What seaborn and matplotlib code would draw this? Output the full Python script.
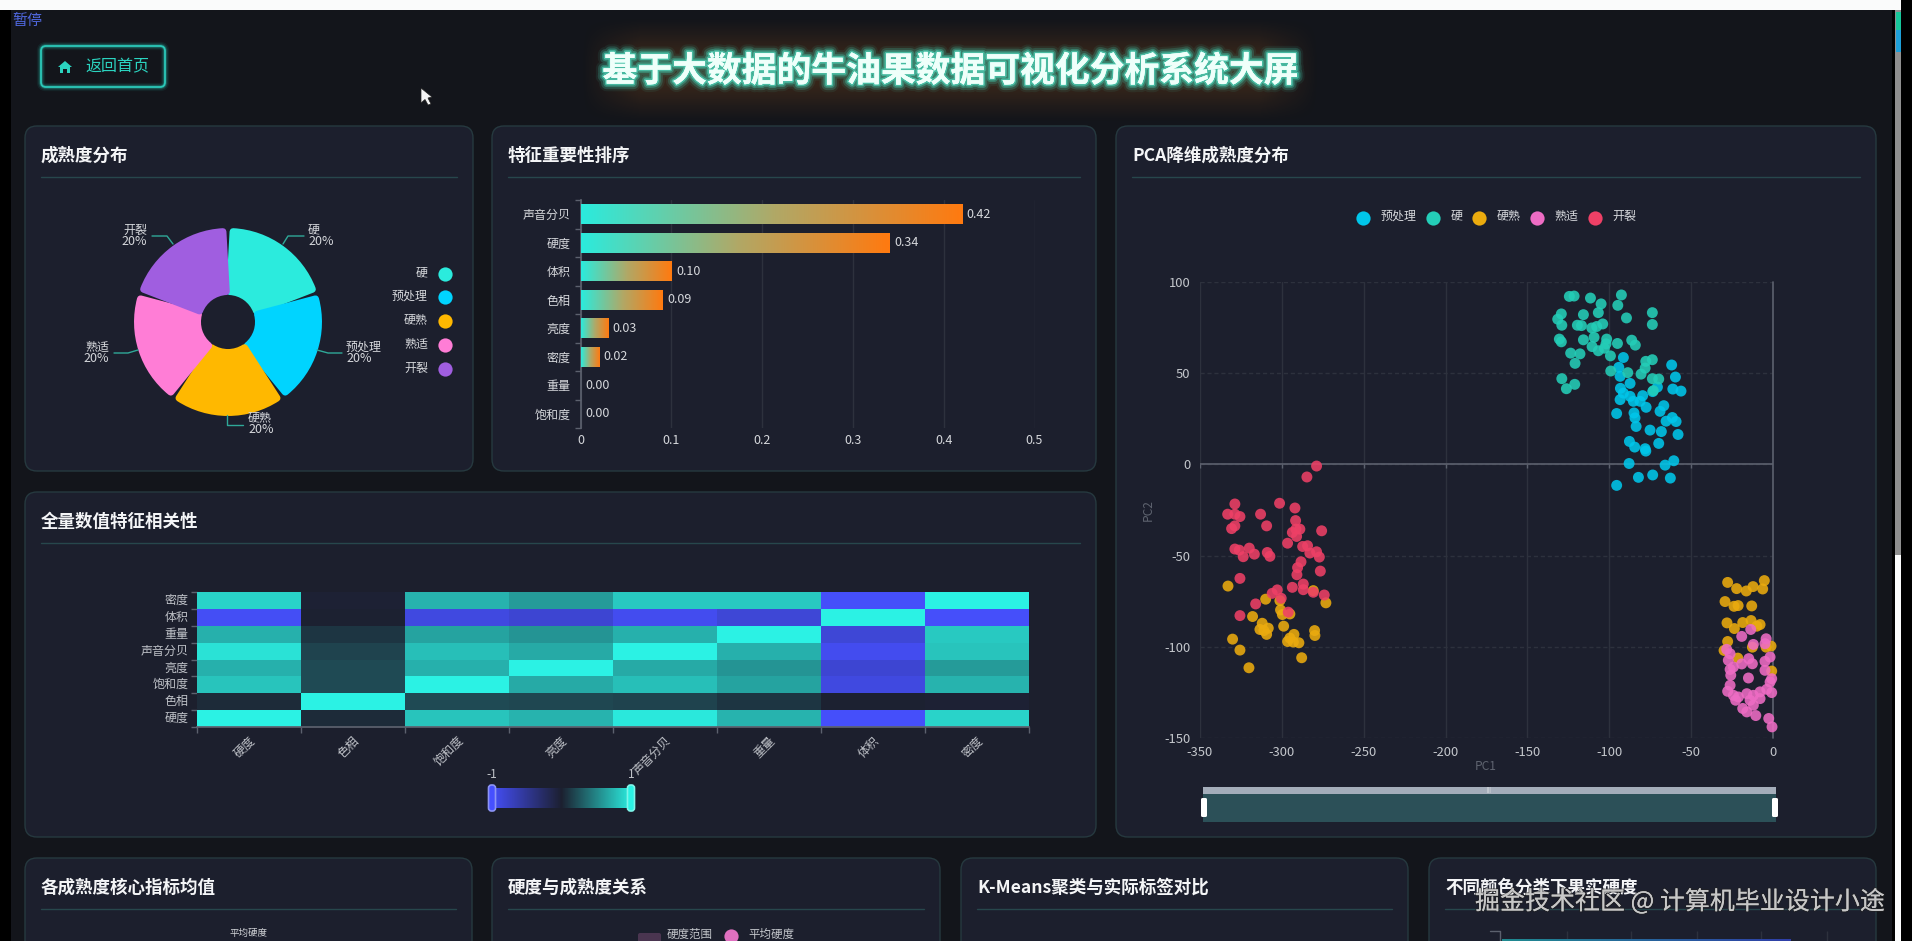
import numpy as np
import pandas as pd
import matplotlib
matplotlib.use('Agg')
import matplotlib.pyplot as plt
import matplotlib.patheffects as pe
from matplotlib.colors import LinearSegmentedColormap
from matplotlib.patches import FancyBboxPatch, Polygon
import seaborn as sns

W, H = 1912, 941

# ripeness pie
ripe_names = ['硬', '预处理', '硬熟', '熟适', '开裂']
ripe_share = [20, 20, 20, 20, 20]
ripe_colors = ['#2BEBDD', '#00D4FF', '#FFB800', '#FF7DD6', '#A05EE0']

# feature importance
feat_names = ['声音分贝', '硬度', '体积', '色相', '亮度', '密度', '重量', '饱和度']
feat_values = [0.42, 0.34, 0.10, 0.09, 0.03, 0.02, 0.00, 0.00]
feat_labels = ['0.42', '0.34', '0.10', '0.09', '0.03', '0.02', '0.00', '0.00']

# correlation heatmap, rows from top to bottom
corr_cols = ['硬度', '色相', '饱和度', '亮度', '声音分贝', '重量', '体积', '密度']
corr_rows = ['密度', '体积', '重量', '声音分贝', '亮度', '饱和度', '色相', '硬度']
corr_midu = [0.85, -0.02, 0.70, 0.58, 0.80, 0.80, -0.97, 1.00]
corr_tiji = [-0.95, 0.00, -0.85, -0.78, -0.92, -0.80, 1.00, -0.97]
corr_zhong = [0.68, 0.10, 0.62, 0.55, 0.68, 1.00, -0.80, 0.80]
corr_sheng = [0.92, 0.17, 0.75, 0.65, 1.00, 0.68, -0.92, 0.78]
corr_liang = [0.68, 0.20, 0.68, 1.00, 0.65, 0.55, -0.78, 0.58]
corr_baohe = [0.78, 0.20, 1.00, 0.65, 0.75, 0.62, -0.85, 0.70]
corr_sexiang = [0.05, 1.00, 0.20, 0.18, 0.17, 0.10, 0.00, -0.02]
corr_yingdu = [1.00, 0.05, 0.78, 0.70, 0.95, 0.70, -0.97, 0.85]

# PCA scatter points
pca_names = ['预处理', '硬', '硬熟', '熟适', '开裂']
pca_colors = ['#00C6EA', '#24CEB8', '#EBAB0E', '#EE6CC4', '#EE4066']

pre_x = [-91.4, -61.9, -94.2, -93.4, -59.6, -87.3, -93.2, -61.2, -56.2, -70.6, -73.5, -91.4, -79.6, -93.4,
         -87.3, -85.3, -81.2, -77.5, -66.7, -69.0, -95.5, -84.9, -84.3, -61.5, -65.3, -59.2, -83.6, -75.1,
         -68.2, -58.0, -87.7, -84.5, -69.8, -78.1, -77.7, -87.9, -65.9, -60.6, -82.2, -73.5, -62.7, -95.5]
pre_y = [58.6, 54.5, 53.2, 48.3, 47.9, 44.4, 41.7, 41.3, 40.2, 42.4, 39.9, 39.1, 37.7, 35.5,
         37.3, 34.6, 34.6, 31.3, 32.2, 29.1, 27.9, 28.2, 25.5, 25.7, 23.7, 23.5, 20.8, 18.8,
         18.0, 16.4, 12.6, 9.5, 11.5, 8.6, 7.3, 0.5, -0.4, 2.0, -7.1, -5.8, -7.5, -11.5]

hard_x = [-124.4, -121.5, -111.5, -92.6, -105.0, -94.8, -129.3, -131.5, -129.0, -115.8, -106.7, -89.5,
          -73.7, -73.7, -119.5, -117.0, -110.7, -107.7, -104.0, -109.3, -130.5, -129.3, -115.8, -101.6,
          -102.0, -110.5, -106.7, -103.0, -95.0, -86.3, -84.1, -123.6, -117.9, -99.3, -120.9, -77.7,
          -73.7, -78.1, -80.6, -99.1, -88.7, -129.0, -121.1, -126.2, -73.7, -69.8, -73.1]
hard_y = [92.1, 92.3, 91.2, 92.9, 88.0, 87.2, 82.5, 79.6, 76.3, 82.1, 83.2, 80.3,
          83.2, 76.7, 76.3, 76.1, 74.8, 75.6, 77.0, 69.7, 68.7, 67.2, 68.3, 68.7,
          66.1, 64.6, 62.3, 63.7, 66.3, 68.1, 65.4, 61.0, 60.6, 59.5, 55.4, 56.5,
          57.4, 52.8, 49.5, 51.2, 50.3, 47.0, 43.9, 41.5, 47.0, 46.8, 40.4]

firm_x = [-332.9, -309.9, -301.2, -273.1, -300.8, -299.7, -295.1, -317.9, -312.0, -308.3, -313.4, -311.0,
          -309.3, -298.9, -280.0, -279.8, -330.1, -325.6, -292.6, -295.1, -296.5, -293.0, -289.6, -287.9,
          -320.1, -280.8, -27.7, -22.2, -16.3, -12.2, -5.3, -6.3, -29.3, -23.8, -21.3, -13.0, -28.1, -23.6,
          -18.5, -13.4, -9.9, -7.9, -27.7, -29.9, -12.6, -4.2, -1.2, -21.5, -0.8]
firm_y = [-66.7, -73.9, -74.7, -75.9, -79.8, -82.3, -82.0, -83.4, -87.1, -89.8, -90.5, -91.1,
          -93.2, -88.7, -91.1, -93.8, -95.8, -101.8, -93.2, -95.2, -97.1, -97.4, -97.8, -106.0,
          -111.5, -69.2, -64.7, -68.1, -69.4, -67.0, -63.7, -68.3, -75.2, -77.8, -77.4, -77.6, -86.9, -90.0,
          -86.7, -85.6, -88.7, -87.8, -97.1, -102.0, -100.2, -100.2, -99.6, -106.2, -113.3]

ripe_x = [-13.6, -19.1, -4.2, -4.9, -12.0, -28.3, -26.2, -27.3, -1.8, -4.9, -14.8, -12.6, -19.1, -24.2,
          -26.2, -4.9, -25.8, -0.8, -15.0, -1.8, -26.2, -27.7, -24.2, -21.1, -16.0, -12.0, -7.9, -3.8,
          -0.8, -22.8, -14.0, -7.9, -12.0, -18.5, -16.0, -10.5, -2.6, -0.6]
ripe_y = [-90.5, -94.3, -95.6, -98.3, -98.7, -101.4, -103.8, -107.4, -105.6, -108.0, -106.5, -109.3, -109.4, -111.1,
          -112.4, -112.9, -115.6, -117.5, -117.1, -119.3, -121.1, -124.4, -126.6, -127.5, -125.7, -126.6, -124.7, -123.3,
          -125.1, -129.3, -129.3, -128.4, -132.0, -133.8, -135.7, -137.7, -139.3, -143.9]

crack_x = [-278.8, -284.7, -328.7, -301.4, -292.0, -313.0, -333.1, -328.7, -325.6, -291.6, -309.3, -328.7,
           -330.7, -289.0, -291.4, -293.6, -291.0, -275.7, -296.5, -328.7, -326.0, -319.9, -316.8, -323.6,
           -308.9, -307.3, -287.3, -284.3, -282.9, -278.8, -277.1, -288.3, -290.4, -290.8, -276.5, -325.6,
           -286.9, -293.6, -286.9, -280.8, -302.8, -305.9, -274.1, -300.4, -316.0, -296.1, -325.6]
crack_y = [-0.9, -6.9, -21.7, -21.3, -23.9, -27.3, -27.3, -27.3, -28.6, -30.8, -33.7, -33.7,
           -35.2, -35.5, -35.5, -37.3, -39.5, -36.4, -43.2, -46.4, -47.0, -45.9, -49.2, -50.6,
           -48.3, -50.4, -45.0, -44.6, -48.6, -47.9, -50.8, -53.4, -56.6, -60.5, -58.5, -62.5,
           -65.6, -67.4, -68.7, -70.1, -68.8, -70.7, -71.6, -73.4, -76.5, -81.0, -82.9]

pca_xticks = [-350, -300, -250, -200, -150, -100, -50, 0]
pca_yticks = [-150, -100, -50, 0, 50, 100]

BG = '#13151B'
PANEL = '#1C1F2D'
BORDER = '#26393F'
TEXT = '#D6D8DC'
AXIS = '#5C616E'
GRID = '#2D313D'

sns.set_theme(style='dark', rc={'axes.facecolor': 'none', 'figure.facecolor': BG, 'axes.grid': False})
plt.rcParams['font.family'] = ['Noto Sans CJK SC', 'DejaVu Sans']
plt.rcParams['axes.unicode_minus'] = False

fig = plt.figure(figsize=(W / 100, H / 100), dpi=100)


def px_axes(left, top, right, bottom, z=1):
    return fig.add_axes([left / W, 1 - bottom / H, (right - left) / W, (bottom - top) / H], zorder=z)


def overlay(z):
    a = px_axes(0, 0, W, H, z)
    a.set_xlim(0, W)
    a.set_ylim(H, 0)
    a.axis('off')
    return a


def fs(px):
    return px * 0.72


bg = overlay(0)
top = overlay(5)


def txt(a, x, y, s, size, color=TEXT, ha='left', va='center', **kw):
    return a.text(x, y, s, fontsize=fs(size), color=color, ha=ha, va=va, **kw)


def panel(x0, y0, x1, y1, title):
    bg.add_patch(FancyBboxPatch((x0, y0), x1 - x0, y1 - y0, boxstyle='round,pad=0,rounding_size=12',
                                fc=PANEL, ec=BORDER, lw=1))
    txt(bg, x0 + 16, y0 + 30, title, 17.5, '#F4F5F7', fontweight='bold')
    bg.plot([x0 + 16, x1 - 16], [y0 + 51, y0 + 51], color='#27474C', lw=1)


panel(25, 126, 473, 471, '成熟度分布')
panel(492, 126, 1096, 471, '特征重要性排序')
panel(1116, 126, 1876, 837, 'PCA降维成熟度分布')
panel(25, 492, 1096, 837, '全量数值特征相关性')
panel(25, 858, 472, 1100, '各成熟度核心指标均值')
panel(492, 858, 940, 1100, '硬度与成熟度关系')
panel(961, 858, 1408, 1100, 'K-Means聚类与实际标签对比')
panel(1429, 858, 1876, 1100, '不同颜色分类下果实硬度')

# brown haze behind the page title
haze_ax = px_axes(580, 15, 1320, 125, 0.5)
gx = np.minimum(np.clip((np.linspace(0, 1, 200)) / 0.08, 0, 1), np.clip((1 - np.linspace(0, 1, 200)) / 0.08, 0, 1))
gy = np.sin(np.linspace(0, np.pi, 60)) ** 1.5
haze = np.zeros((60, 200, 4))
haze[..., 0], haze[..., 1], haze[..., 2] = 1.0, 0.52, 0.1
haze[..., 3] = 0.17 * np.outer(gy, gx)
haze_ax.imshow(haze, aspect='auto', interpolation='bilinear')
haze_ax.axis('off')

# page title with glow
title = txt(top, 950, 71, '基于大数据的牛油果数据可视化分析系统大屏', 34.8, '#EFFFFA', ha='center', fontweight='bold')
title.set_path_effects([
    pe.withStroke(linewidth=11, foreground='#3FD6B8', alpha=0.08),
    pe.withStroke(linewidth=8, foreground='#3FD6B8', alpha=0.2),
    pe.withStroke(linewidth=5, foreground='#3FD6B8', alpha=0.35),
    pe.withStroke(linewidth=2.5, foreground='#55E0C4', alpha=0.6),
    pe.Normal(),
])

# back button
for lw, al in [(6, 0.08), (4, 0.14), (2.5, 0.25)]:
    bg.add_patch(FancyBboxPatch((41, 46), 124, 41, boxstyle='round,pad=0,rounding_size=5',
                                fc='none', ec='#2BD4C0', lw=lw, alpha=al))
bg.add_patch(FancyBboxPatch((41, 46), 124, 41, boxstyle='round,pad=0,rounding_size=5',
                            fc='none', ec='#2BC8B8', lw=1.3))
bg.add_patch(Polygon([(65, 61), (72, 67), (70, 67), (70, 73), (67, 73), (67, 69), (63, 69), (63, 73), (60, 73),
                      (60, 67), (58, 67)], closed=True, fc='#2BD4C0', ec='none'))
txt(bg, 85.5, 66.5, '返回首页', 16, '#2BD4C0')

# pie, rounded corners come from a thick round joined edge
pie_ax = px_axes(118, 212, 338, 432)
wedges, _ = pie_ax.pie(ripe_share, colors=ripe_colors, startangle=90, counterclock=False, radius=90.5,
                       wedgeprops=dict(width=60, lw=5, joinstyle='round'))
for w, c in zip(wedges, ripe_colors):
    w.set_edgecolor(c)
    w.set_theta1(w.theta1 + 3.2)
    w.set_theta2(w.theta2 - 3.2)
pie_ax.set_xlim(-110, 110)
pie_ax.set_ylim(-110, 110)

leaders = [[(283, 244), (288, 236), (304, 236)], [(317, 350), (328, 353), (342, 353)],
           [(227, 415), (227, 425), (243, 425)], [(138, 350), (128, 353), (114, 353)],
           [(173, 244), (167, 236), (152, 236)]]
label_spots = [(308, 230, 'left'), (346, 347, 'left'), (248, 418, 'left'), (109, 347, 'right'), (147, 230, 'right')]
for name, pts, (lx, ly, ha), share in zip(ripe_names, leaders, label_spots, ripe_share):
    top.plot([p[0] for p in pts], [p[1] for p in pts], color='#2FA898', lw=1)
    txt(top, lx, ly, name, 12, ha=ha)
    txt(top, lx, ly + 11.5, '%d%%' % share, 12.5, ha=ha)
for name, c, y in zip(ripe_names, ripe_colors, [274, 297, 321, 345, 369]):
    top.scatter([445], [y], s=105, color=c, lw=0)
    txt(top, 428, y - 1, name, 12, ha='right')

# feature bars
bar_ax = px_axes(580.5, 200, 1034.5, 428)
feat_df = pd.DataFrame({'name': feat_names, 'value': feat_values})
sns.barplot(feat_df, y='name', x='value', ax=bar_ax, width=0.7, color='#2BEBDD', orient='h', linewidth=0)
bar_cmap = LinearSegmentedColormap.from_list('bar', ['#2BEBDD', '#AFA968', '#FF7A10'])
grad = np.linspace(0, 1, 128).reshape(1, -1)
for p in list(bar_ax.patches):
    if p.get_width() > 0:
        bar_ax.imshow(grad, cmap=bar_cmap, aspect='auto', zorder=3,
                      extent=[p.get_x(), p.get_x() + p.get_width(), p.get_y() + p.get_height(), p.get_y()])
bar_ax.set_xlim(0, 0.5)
bar_ax.set_ylim(7.5, -0.5)
bar_ax.set_xlabel('')
bar_ax.set_ylabel('')
bar_ax.set_xticks([0, 0.1, 0.2, 0.3, 0.4, 0.5], ['0', '0.1', '0.2', '0.3', '0.4', '0.5'])
bar_ax.set_yticks(range(8), feat_names)
bar_ax.set_yticks(np.arange(-0.5, 8), minor=True)
bar_ax.tick_params(axis='x', length=0, labelsize=fs(12.5), labelcolor=TEXT, pad=4.5)
bar_ax.tick_params(axis='y', which='major', length=0, labelsize=fs(12), labelcolor=TEXT, pad=7)
bar_ax.tick_params(axis='y', which='minor', length=4, width=1, color=AXIS, left=True)
bar_ax.grid(axis='x', color=GRID, lw=1)
bar_ax.set_axisbelow(True)
for s in bar_ax.spines.values():
    s.set_visible(False)
bar_ax.spines['left'].set_visible(True)
bar_ax.spines['left'].set_color(AXIS)
for i, (v, lab) in enumerate(zip(feat_values, feat_labels)):
    bar_ax.annotate(lab, (v, i), xytext=(3.5, 0), textcoords='offset points', va='center', ha='left',
                    fontsize=fs(12.5), color=TEXT)

# correlation heatmap
heat_ax = px_axes(196.7, 592, 1029, 727)
corr_df = pd.DataFrame([corr_midu, corr_tiji, corr_zhong, corr_sheng, corr_liang, corr_baohe, corr_sexiang, corr_yingdu],
                       index=corr_rows, columns=corr_cols)
corr_cmap = LinearSegmentedColormap.from_list('corr', ['#4650FF', '#1C2030', '#2BF2E4'])
sns.heatmap(corr_df, ax=heat_ax, cmap=corr_cmap, vmin=-1, vmax=1, cbar=False, xticklabels=True, yticklabels=True)
heat_ax.tick_params(axis='both', which='major', length=0, labelsize=fs(12), labelcolor='#BFC2C8')
heat_ax.tick_params(axis='y', pad=6)
plt.setp(heat_ax.get_yticklabels(), rotation=0)
plt.setp(heat_ax.get_xticklabels(), rotation=45, ha='right', va='top', rotation_mode='anchor')
heat_ax.tick_params(axis='x', pad=5)
heat_ax.set_xticks(np.arange(0, 9), minor=True)
heat_ax.set_yticks(np.arange(0, 9), minor=True)
heat_ax.tick_params(axis='both', which='minor', length=4, width=1, color=AXIS, bottom=True, left=True)
heat_ax.set_xlabel('')
heat_ax.set_ylabel('')
heat_ax.spines['bottom'].set_visible(True)
heat_ax.spines['bottom'].set_color(AXIS)

# heatmap range control
vm_ax = px_axes(489, 788, 634, 808)
vm_ax.imshow(np.linspace(-1, 1, 200).reshape(1, -1), cmap=corr_cmap, aspect='auto', vmin=-1, vmax=1)
vm_ax.axis('off')
for x, c, lab in [(492, '#8C94F5', '-1'), (631, '#7FF5EA', '1')]:
    top.add_patch(FancyBboxPatch((x - 3.5, 785), 7, 26, boxstyle='round,pad=0,rounding_size=3',
                                 fc='#4650FF' if lab == '-1' else '#2BF2E4', ec=c, lw=1.2))
    txt(top, x, 775, lab, 12, ha='center', color='#BFC2C8')

# PCA scatter
pca_df = pd.concat([
    pd.DataFrame({'PC1': xs, 'PC2': ys, 'label': n})
    for xs, ys, n in zip([pre_x, hard_x, firm_x, ripe_x, crack_x], [pre_y, hard_y, firm_y, ripe_y, crack_y], pca_names)
])
pca_ax = px_axes(1200, 282, 1773, 738)
sns.scatterplot(pca_df, x='PC1', y='PC2', hue='label', hue_order=pca_names, palette=pca_colors, s=62, alpha=0.88,
                linewidth=0, legend=False, ax=pca_ax, clip_on=False, zorder=3)
pca_ax.set_xlim(-350, 0)
pca_ax.set_ylim(-150, 100)
pca_ax.set_xticks(pca_xticks, [str(t) for t in pca_xticks])
pca_ax.set_yticks(pca_yticks, [str(t) for t in pca_yticks])
pca_ax.tick_params(axis='both', length=0, labelsize=fs(13), labelcolor='#C4C7CC')
pca_ax.tick_params(axis='x', pad=6)
pca_ax.tick_params(axis='y', pad=7)
pca_ax.grid(axis='x', color=GRID, lw=1)
pca_ax.grid(axis='y', color=GRID, lw=1, ls=(0, (3, 2)))
pca_ax.set_axisbelow(True)
for s in pca_ax.spines.values():
    s.set_visible(False)
pca_ax.axhline(0, color=AXIS, lw=1.2, zorder=1)
pca_ax.axvline(0, color=AXIS, lw=1.2, zorder=1, clip_on=False)
pca_ax.vlines(pca_xticks, -2, 0, color=AXIS, lw=1, zorder=1)
pca_ax.set_xlabel('')
pca_ax.set_ylabel('')
txt(top, 1486, 767, 'PC1', 12, '#5F6470', ha='center')
txt(top, 1148, 510, 'PC2', 12, '#5F6470', ha='center', rotation=90)
for name, c, cx, tx in zip(pca_names, pca_colors, [1363, 1433, 1479, 1537, 1595], [1381, 1451, 1497, 1554, 1612]):
    top.scatter([cx], [217.5], s=105, color=c, lw=0)
    txt(top, tx, 216, name, 12)

# zoom slider under the scatter
top.fill_between([1203, 1776], 787, 794, color='#A4ADBA', lw=0)
top.fill_between([1203, 1776], 794, 822, color='#2C5058', lw=0)
top.text(1489, 790, '|||', fontsize=fs(6), color='#F0F0F0', ha='center', va='center')
for x in [1204, 1775]:
    top.add_patch(FancyBboxPatch((x - 3, 798), 6, 19, boxstyle='round,pad=0,rounding_size=1.5', fc='#FFFFFF', ec='none'))

# top of the cut off bottom row
txt(top, 249, 933, '平均硬度', 9.5, '#D0D2D6', ha='center')
top.add_patch(FancyBboxPatch((638, 933), 23, 15, boxstyle='round,pad=0,rounding_size=2', fc='#4A3550', ec='none'))
txt(top, 667, 934, '硬度范围', 11.5, '#C4C7CC')
top.scatter([731], [936], s=105, color='#E070C0', lw=0)
txt(top, 748, 934, '平均硬度', 11.5, '#C4C7CC')
top.vlines([1567, 1631, 1697, 1761, 1827], 931, 941, color=GRID, lw=1)
top.plot([1490, 1500, 1500], [931, 931, 941], color=AXIS, lw=1)
strip_ax = px_axes(1502, 939, 1791, 941, 6)
strip_ax.imshow(np.linspace(0, 1, 64).reshape(1, -1), aspect='auto',
                cmap=LinearSegmentedColormap.from_list('strip', ['#1F8A90', '#2F3FA8']))
strip_ax.axis('off')

# watermark
mark = txt(top, 1475, 902, '掘金技术社区 @ 计算机毕业设计小途', 25, '#C9C9C9', alpha=0.9)
mark.set_path_effects([pe.withStroke(linewidth=1.5, foreground='#222222', alpha=0.6), pe.Normal()])

# screen recording leftovers
txt(top, 12, 21, '暂停', 15, '#5068E0')
top.add_patch(Polygon([(421, 88), (421, 103), (425, 99.5), (428, 105), (431, 104), (428, 98), (432, 97)],
                      closed=True, fc='#F4F4F4', ec='#222222', lw=0.5))
top.fill_between([0, 1901], 0, 10, color='#FAFBFB', lw=0)
top.fill_between([0, 11], 10, 941, color='#000000', lw=0)
top.fill_between([1892, 1895], 10, 941, color='#000000', lw=0)
top.fill_between([1895, 1901], 10, 555, color='#8F8F8F', lw=0)
top.fill_between([1895, 1901], 555, 941, color='#FAFBFB', lw=0)
top.fill_between([1901, 1912], 0, 941, color='#000000', lw=0)
top.fill_between([1896, 1901], 12, 30, color='#17C79A', lw=0)
top.fill_between([1896, 1901], 30, 52, color='#1E9FD8', lw=0)

fig.savefig('out.png', dpi=100, facecolor=BG)
